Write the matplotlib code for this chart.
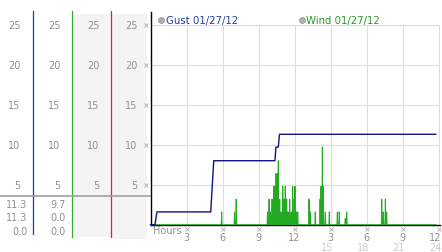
import numpy as np
import matplotlib
matplotlib.use('Agg')
import matplotlib.pyplot as plt
from matplotlib.transforms import blended_transform_factory

# ---------------- data ----------------
hour_ticks = [3, 6, 9, 12, 15, 18, 21, 24]
hour_labels = ['3', '6', '9', '12', '3', '6', '9', '12']
day2_hours = [15, 18, 21, 24]
day2_labels = ['15', '18', '21', '24']
y_ticks = [25, 20, 15, 10, 5]

gust_hours = [0, 0.37, 0.54, 5.02, 5.27, 10.37, 10.45, 10.65, 10.75, 23.77]
gust_vals = [0, 0, 1.6, 1.6, 8.0, 8.0, 9.7, 9.7, 11.3, 11.3]

wind_hours = [5.93, 7.00, 7.14, 9.75, 9.88, 10.00, 10.13, 10.27, 10.38, 10.46,
              10.57, 10.65, 10.77, 10.88, 11.02, 11.13, 11.23, 11.35, 11.46,
              11.60, 11.73, 11.85, 11.98, 12.04, 12.15, 12.27, 13.21, 13.32,
              13.73, 14.13, 14.21, 14.32, 14.40, 14.57, 14.90, 15.57, 15.73,
              16.23, 16.35, 19.27, 19.40, 19.57, 19.68]
wind_vals = [1.6, 1.6, 3.2, 1.6, 3.2, 1.6, 3.2, 4.8, 4.8, 6.4,
             6.4, 8.0, 3.2, 1.6, 4.8, 3.2, 4.8, 3.2, 1.6,
             3.2, 1.6, 4.8, 3.2, 4.8, 1.6, 1.6, 3.2, 1.6,
             1.6, 3.2, 4.8, 9.7, 4.8, 1.6, 1.6, 1.6, 1.6,
             0.8, 1.6, 3.2, 1.6, 3.2, 1.6]
wind_end = 23.77

stats_col1 = ['11.3', '11.3', '0.0']
stats_col2 = ['9.7', '0.0', '0.0']

gust_label = 'Gust 01/27/12'
wind_label = 'Wind 01/27/12'

# ---------------- figure ----------------
W, H = 442, 253
fig = plt.figure(figsize=(W / 100, H / 100), dpi=100)
fig.patch.set_facecolor('white')

# pixel-coordinate panel (background layer)
pan = fig.add_axes([0, 0, 1, 1], zorder=0)
pan.set_xlim(0, W)
pan.set_ylim(H, 0)
pan.axis('off')

# main plot axes
x0, x1 = 150.5, 440.0
ytop, y0 = 13.0, 225.7
px_per_h = 12.0
px_per_u = 8.0
ax = fig.add_axes([x0 / W, (H - y0) / H, (x1 - x0) / W, (y0 - ytop) / H], zorder=1)
ax.patch.set_alpha(0)
ax.set_xlim(0, (x1 - x0) / px_per_h)
ax.set_ylim(0, (y0 - ytop) / px_per_u)
for s in ['top', 'right']:
    ax.spines[s].set_visible(False)
ax.spines['left'].set_color('black')
ax.spines['bottom'].set_color('black')
ax.spines['left'].set_linewidth(1.0)
ax.spines['bottom'].set_linewidth(1.0)
ax.set_xticks([])
ax.set_yticks([])

grid_c = '#dcdcdc'
ax.hlines(y_ticks, 0, ax.get_xlim()[1], colors=grid_c, lw=0.8, zorder=1)
ax.vlines(hour_ticks, 0, max(y_ticks), colors=grid_c, lw=0.8, zorder=1)

# wind spikes
wx, wy = [0.0], [0.0]
for h, v in zip(wind_hours, wind_vals):
    wx += [h - 0.035, h, h + 0.035]
    wy += [0, v, 0]
wx.append(wind_end)
wy.append(0)
ax.plot(wx, wy, color='#22aa22', lw=0.7, zorder=3, clip_on=False)

# gust steps
ax.plot(gust_hours, gust_vals, color='#12128a', lw=1.0, zorder=4, clip_on=False)

# ---------------- left panel ----------------
tr_y = blended_transform_factory(pan.transData, ax.transData)
tr_x = blended_transform_factory(ax.transData, pan.transData)

pan.add_patch(plt.Rectangle((73, 15), 38, 223, color='#f4f4f4', lw=0, zorder=0))
pan.add_patch(plt.Rectangle((112, 15), 34.5, 225, color='#f4f4f4', lw=0, zorder=0))

pan.plot([33.3, 33.3], [12, 235], color='#1f3f9f', lw=0.9, zorder=2)
pan.plot([72.3, 72.3], [12, 238], color='#33aa33', lw=0.9, zorder=2)
pan.plot([111.3, 111.3], [12, 238], color='#bb3333', lw=0.9, zorder=2)
pan.plot([0, 150], [196.7, 196.7], color='#a0a0a0', lw=1.2, zorder=3)

lab_c = '#909090'
fs = 7
for xr in [20.5, 60.7, 99.7, 137.7]:
    for v in y_ticks:
        pan.text(xr, v, str(v), transform=tr_y, ha='right', va='center',
                 fontsize=fs, color=lab_c, zorder=4)

# small tick glyphs
pan.plot([145.7] * len(y_ticks), y_ticks, transform=tr_y, ls='none', marker='x',
         ms=2.2, mew=0.6, color='#a8a8a8', zorder=4)
pan.plot(hour_ticks, [229.5] * len(hour_ticks), transform=tr_x, ls='none', marker='x',
         ms=2.2, mew=0.6, color='#a8a8a8', zorder=4)

stat_rows = [205, 218.5, 232]
for yy, s1, s2 in zip(stat_rows, stats_col1, stats_col2):
    pan.text(27.3, yy, s1, ha='right', va='center', fontsize=fs, color=lab_c, zorder=4)
    pan.text(65.7, yy, s2, ha='right', va='center', fontsize=fs, color=lab_c, zorder=4)

# x labels
pan.text(153, 231.5, 'Hours', ha='left', va='center', fontsize=fs, color=lab_c, zorder=4)
for i, (h, l) in enumerate(zip(hour_ticks, hour_labels)):
    last = i == len(hour_ticks) - 1
    pan.text(h + (0.25 if last else 0), 238, l, transform=tr_x,
             ha='right' if last else 'center', va='center', fontsize=fs,
             color=lab_c, zorder=4)
for i, (h, l) in enumerate(zip(day2_hours, day2_labels)):
    last = i == len(day2_hours) - 1
    pan.text(h + (0.25 if last else -0.3), 248, l, transform=tr_x,
             ha='right' if last else 'center', va='center', fontsize=fs,
             color='#cccccc', zorder=4)

# legend
pan.plot([160.7], [20.7], marker='o', ms=4.2, color='#b0b0b0', mec='#909090', mew=0.5, zorder=4)
pan.text(165.5, 20.7, gust_label, ha='left', va='center', fontsize=7.3,
         color='#1f3fa8', zorder=4)
pan.plot([301.7], [20.7], marker='o', ms=4.2, color='#b0b0b0', mec='#909090', mew=0.5, zorder=4)
pan.text(306.5, 20.7, wind_label, ha='left', va='center', fontsize=7.3,
         color='#2a9a2a', zorder=4)

fig.savefig('out.png', dpi=100, facecolor='white')
